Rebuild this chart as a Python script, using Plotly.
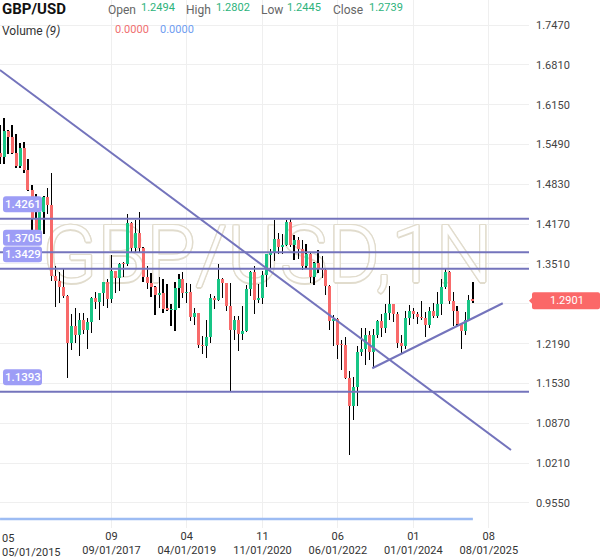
import plotly.graph_objects as go
import pandas as pd

# ---------------- data ----------------
months = pd.date_range("2015-05-01", periods=120, freq="MS")

opens = [
    1.5356, 1.5285, 1.5712, 1.5617, 1.5349, 1.5127, 1.5427, 1.5063,
    1.4739, 1.4249, 1.3920, 1.4364, 1.4615, 1.4487, 1.3311, 1.3230, 1.3130, 1.2980, 1.2200, 1.2489,
    1.2340, 1.2580, 1.2415, 1.2550, 1.2945, 1.2885, 1.3025, 1.3205, 1.2930, 1.3396, 1.3284, 1.3517,
    1.3513, 1.4190, 1.3773, 1.4025, 1.3775, 1.3297, 1.3198, 1.3125, 1.2995, 1.3030, 1.2770, 1.2752,
    1.2755, 1.3112, 1.3263, 1.3034, 1.3040, 1.2625, 1.2695, 1.2163, 1.2157, 1.2292, 1.2945, 1.2915,
    1.3260, 1.3200, 1.2814, 1.2415, 1.2590, 1.2345, 1.2400, 1.3090, 1.3370, 1.2920, 1.2950, 1.3323,
    1.3670, 1.3700, 1.3930, 1.3785, 1.3820, 1.4210, 1.3830, 1.3905, 1.3760, 1.3470, 1.3680, 1.3300,
    1.3530, 1.3445, 1.3410, 1.3140, 1.2570, 1.2600, 1.2175, 1.2170, 1.1620, 1.1165, 1.1470, 1.2055,
    1.2095, 1.2330, 1.2055, 1.2335, 1.2570, 1.2445, 1.2705, 1.2840, 1.2680, 1.2200, 1.2150, 1.2620,
    1.2730, 1.2685, 1.2630, 1.2620, 1.2494, 1.2739, 1.2645, 1.2855, 1.3125, 1.3375, 1.2895, 1.2735,
    1.2515, 1.2395, 1.2580, 1.2917,
]
highs = [
    1.5815, 1.5930, 1.5730, 1.5819, 1.5659, 1.5508, 1.5529, 1.5242,
    1.4812, 1.4667, 1.4459, 1.4638, 1.4770, 1.5018, 1.3480, 1.3373, 1.3445, 1.2996, 1.2674, 1.2775,
    1.2706, 1.2706, 1.2615, 1.2965, 1.3048, 1.3030, 1.3213, 1.3268, 1.3658, 1.3400, 1.3525, 1.3550,
    1.4345, 1.4199, 1.4245, 1.4377, 1.3795, 1.3473, 1.3363, 1.3147, 1.3298, 1.3258, 1.3176, 1.2840,
    1.3216, 1.3350, 1.3382, 1.3196, 1.3176, 1.2784, 1.2700, 1.2310, 1.2582, 1.3013, 1.2986, 1.3515,
    1.3285, 1.3200, 1.3200, 1.2648, 1.2647, 1.2813, 1.3170, 1.3395, 1.3482, 1.3177, 1.3398, 1.3675,
    1.3758, 1.4242, 1.4017, 1.4009, 1.4234, 1.4250, 1.3984, 1.3958, 1.3913, 1.3834, 1.3700, 1.3550,
    1.3750, 1.3645, 1.3437, 1.3168, 1.2667, 1.2617, 1.2245, 1.2294, 1.1738, 1.1645, 1.2154, 1.2446,
    1.2448, 1.2401, 1.2425, 1.2584, 1.2680, 1.2848, 1.3142, 1.2842, 1.2713, 1.2337, 1.2733, 1.2827,
    1.2775, 1.2709, 1.2894, 1.2709, 1.2802, 1.2860, 1.3044, 1.3266, 1.3434, 1.3391, 1.3048, 1.2811,
    1.2523, 1.2715, 1.2990, 1.3207,
]
lows = [
    1.5170, 1.5170, 1.5330, 1.5330, 1.5106, 1.5107, 1.5026, 1.4722,
    1.4080, 1.3836, 1.3835, 1.4005, 1.4332, 1.3229, 1.2798, 1.2865, 1.2945, 1.1620, 1.2082, 1.2200,
    1.1986, 1.2345, 1.2109, 1.2365, 1.2770, 1.2589, 1.2812, 1.2774, 1.2861, 1.3026, 1.3062, 1.3301,
    1.3475, 1.3712, 1.3712, 1.3711, 1.3204, 1.3099, 1.2957, 1.2662, 1.2784, 1.2695, 1.2723, 1.2477,
    1.2392, 1.2773, 1.2945, 1.2866, 1.2560, 1.2507, 1.2119, 1.2015, 1.1958, 1.2195, 1.2768, 1.2903,
    1.2954, 1.2726, 1.1409, 1.2247, 1.2076, 1.2252, 1.2390, 1.2982, 1.2675, 1.2863, 1.2855, 1.3135,
    1.3451, 1.3567, 1.3670, 1.3668, 1.3802, 1.3787, 1.3572, 1.3600, 1.3412, 1.3435, 1.3195, 1.3160,
    1.3357, 1.3272, 1.3000, 1.2411, 1.2155, 1.1934, 1.1760, 1.1600, 1.0350, 1.0923, 1.1150, 1.1992,
    1.1840, 1.1915, 1.1800, 1.2276, 1.2308, 1.2369, 1.2590, 1.2547, 1.2110, 1.2037, 1.2095, 1.2500,
    1.2597, 1.2518, 1.2575, 1.2300, 1.2445, 1.2613, 1.2615, 1.2665, 1.3090, 1.2845, 1.2487, 1.2475,
    1.2100, 1.2333, 1.2560, 1.2860,
]
closes = [
    1.5285, 1.5712, 1.5617, 1.5349, 1.5127, 1.5427, 1.5063, 1.4739,
    1.4249, 1.3920, 1.4364, 1.4615, 1.4487, 1.3311, 1.3230, 1.3130, 1.2980, 1.2200, 1.2489, 1.2340,
    1.2580, 1.2415, 1.2550, 1.2945, 1.2885, 1.3025, 1.3205, 1.2930, 1.3396, 1.3284, 1.3517, 1.3513,
    1.4190, 1.3773, 1.4025, 1.3775, 1.3297, 1.3198, 1.3125, 1.2995, 1.3030, 1.2770, 1.2752, 1.2755,
    1.3112, 1.3263, 1.3034, 1.3040, 1.2625, 1.2695, 1.2163, 1.2157, 1.2292, 1.2945, 1.2915, 1.3260,
    1.3200, 1.2814, 1.2415, 1.2590, 1.2345, 1.2400, 1.3090, 1.3370, 1.2920, 1.2950, 1.3323, 1.3670,
    1.3700, 1.3930, 1.3785, 1.3820, 1.4210, 1.3830, 1.3905, 1.3760, 1.3470, 1.3680, 1.3300, 1.3530,
    1.3445, 1.3410, 1.3140, 1.2570, 1.2600, 1.2175, 1.2170, 1.1620, 1.1165, 1.1470, 1.2055, 1.2095,
    1.2330, 1.2055, 1.2335, 1.2570, 1.2445, 1.2705, 1.2840, 1.2680, 1.2200, 1.2150, 1.2620, 1.2730,
    1.2685, 1.2630, 1.2620, 1.2494, 1.2739, 1.2645, 1.2855, 1.3125, 1.3375, 1.2895, 1.2735, 1.2515,
    1.2395, 1.2580, 1.2917, 1.2901,
]
volume_ma = [0.0] * 120

level_values = [1.4261, 1.3705, 1.3429, 1.1393]
level_labels = ["1.4261", "1.3705", "1.3429", "1.1393"]
last_price = 1.2901
last_label = "1.2901"

down_trend_x = ["2015-04-30", "2026-01-18"]
down_trend_y = [1.6724, 1.0428]
up_trend_x = ["2023-02-20", "2025-11-16"]
up_trend_y = [1.1782, 1.2859]

y_tick_vals = [0.9550, 1.0210, 1.0870, 1.1530, 1.2190, 1.2850, 1.3510,
               1.4170, 1.4830, 1.5490, 1.6150, 1.6810, 1.7470]
y_tick_text = ["0.9550", "1.0210", "1.0870", "1.1530", "1.2190", "", "1.3510",
               "1.4170", "1.4830", "1.5490", "1.6150", "1.6810", "1.7470"]
x_tick_vals = ["2017-09-01", "2019-04-01", "2020-11-01", "2022-06-01", "2024-01-01", "2025-08-01"]
x_tick_text = ["09<br>09/01/2017", "04<br>04/01/2019", "11<br>11/01/2020",
               "06<br>06/01/2022", "01<br>01/01/2024", "08<br>08/01/2025"]
first_x_label = "05<br>05/01/2015"

header_names = ["Open", "High", "Low", "Close"]
header_values = ["1.2494", "1.2802", "1.2445", "1.2739"]
watermark_text = "GBP/USD,1N"
watermark_x = ["2020-12-09"]
watermark_y = [1.354]

# ---------------- style ----------------
FONT = "Roboto"
UP = "#17c585"
DOWN = "#f86a6a"
PURPLE = "#7474bc"
TAG_PURPLE = "#9d9df6"
TAG_RED = "#fb6868"
W, H = 529, 528          # plot area in px (margins: r=71, b=30)
PX_PER_DAY = 0.1305
DAY_MS = 86400000

def pxx(p):
    return p / W

def pxy(p):
    return 1 - p / H

def rounded_rect(x0, y0, x1, y1, r, point_left=False):
    # pixel coords -> paper path with rounded corners
    pts = []
    def P(x, y):
        return f"{pxx(x):.5f},{pxy(y):.5f}"
    path = f"M {P(x0 + r, y0)} L {P(x1 - r, y0)} Q {P(x1, y0)} {P(x1, y0 + r)} "
    path += f"L {P(x1, y1 - r)} Q {P(x1, y1)} {P(x1 - r, y1)} L {P(x0 + r, y1)} "
    path += f"Q {P(x0, y1)} {P(x0, y1 - r)} "
    if point_left:
        ym = (y0 + y1) / 2
        path += f"L {P(x0, ym + 3)} L {P(x0 - 3, ym)} L {P(x0, ym - 3)} "
    path += f"L {P(x0, y0 + r)} Q {P(x0, y0)} {P(x0 + r, y0)} Z"
    return path

body_base = [min(o, c) for o, c in zip(opens, closes)]
body_h = [max(abs(c - o), 0.0008) for o, c in zip(opens, closes)]
body_col = [UP if c >= o else DOWN for o, c in zip(opens, closes)]
wick_h = [h - l for h, l in zip(highs, lows)]

fig = go.Figure()

# watermark (base layer, below candles)
outline = "#e1dccd"
sh = ", ".join(f"{dx}px {dy}px 0 {outline}" for dx, dy in
               [(1.4, 0), (-1.4, 0), (0, 1.4), (0, -1.4), (1, 1), (-1, -1), (1, -1), (-1, 1)])
fig.add_trace(go.Scatter(
    x=watermark_x, y=watermark_y, mode="text", text=[watermark_text],
    textposition="middle center",
    textfont=dict(family=FONT, size=80, color="white", weight=300, shadow=sh),
    hoverinfo="skip", showlegend=False, xaxis="x", yaxis="y", cliponaxis=False,
))

# wicks
fig.add_trace(go.Bar(
    x=months, y=wick_h, base=lows, width=0.25 / PX_PER_DAY * DAY_MS,
    marker=dict(color="#000000", line=dict(width=0)),
    hoverinfo="skip", showlegend=False, xaxis="x", yaxis="y2",
))
# bodies
fig.add_trace(go.Bar(
    x=months, y=body_h, base=body_base, width=3.0 / PX_PER_DAY * DAY_MS,
    marker=dict(color=body_col, line=dict(width=0)),
    hoverinfo="skip", showlegend=False, xaxis="x", yaxis="y2",
))

# volume MA line
fig.add_trace(go.Scatter(
    x=months, y=volume_ma, mode="lines", line=dict(color="#9dbcf3", width=2.5),
    hoverinfo="skip", showlegend=False, xaxis="x", yaxis="y3",
))

price_top = 1.7470 + 25 / 603.5
price_bot = 1.7470 - (H * 0.96 - 25) / 603.5

fig.update_layout(
    width=600, height=558,
    margin=dict(l=0, r=71, t=0, b=30),
    paper_bgcolor="white", plot_bgcolor="white",
    barmode="overlay", bargap=0, bargroupgap=0,
    showlegend=False,
    font=dict(family=FONT, size=11, color="#444"),
    xaxis=dict(
        type="date", range=["2015-04-30 14:00", "2026-06-05"],
        tickvals=x_tick_vals, ticktext=x_tick_text,
        tickfont=dict(family=FONT, size=11, color="#333"),
        showgrid=True, gridcolor="#efefef", gridwidth=1,
        zeroline=False, showline=False, ticks="", anchor="y3",
    ),
    yaxis=dict(
        domain=[0.04, 1], range=[price_bot, price_top], side="right",
        tickvals=y_tick_vals, ticktext=y_tick_text,
        tickfont=dict(family=FONT, size=11, color="#444"),
        showgrid=True, gridcolor="#efefef", gridwidth=1,
        zeroline=False, showline=False, ticks="", ticklabelstandoff=6,
        anchor="x",
    ),
    yaxis2=dict(
        overlaying="y", range=[price_bot, price_top], visible=False,
        showgrid=False, anchor="x",
    ),
    yaxis3=dict(
        domain=[0, 0.04], range=[-0.426, 0.574], visible=False,
        showgrid=False, zeroline=False, anchor="x",
    ),
)

# horizontal levels
for v in level_values:
    fig.add_shape(type="line", xref="paper", yref="y", x0=0, x1=1, y0=v, y1=v,
                  line=dict(color=PURPLE, width=2))
# trend lines
fig.add_shape(type="line", xref="x", yref="y",
              x0=down_trend_x[0], x1=down_trend_x[1], y0=down_trend_y[0], y1=down_trend_y[1],
              line=dict(color=PURPLE, width=2))
fig.add_shape(type="line", xref="x", yref="y",
              x0=up_trend_x[0], x1=up_trend_x[1], y0=up_trend_y[0], y1=up_trend_y[1],
              line=dict(color=PURPLE, width=2))

# level tags on the left (rounded boxes + text)
for v, t in zip(level_values, level_labels):
    yc = 25 + (1.7470 - v) * 603.5 - 14.5
    fig.add_shape(type="path", xref="paper", yref="paper",
                  path=rounded_rect(3, yc - 8, 42, yc + 8, 3),
                  fillcolor=TAG_PURPLE, line=dict(width=0))
    fig.add_annotation(x=pxx(22.5), xref="paper", xanchor="center", y=pxy(yc), yref="paper",
                       yanchor="middle", text=t, showarrow=False,
                       font=dict(family=FONT, size=11.5, color="white", weight=500))

# last price tag
yl = 25 + (1.7470 - last_price) * 603.5
fig.add_shape(type="path", xref="paper", yref="paper",
              path=rounded_rect(532, yl - 8.5, 600, yl + 8.5, 2, point_left=True),
              fillcolor=TAG_RED, line=dict(width=0))
fig.add_annotation(x=pxx(567), xref="paper", xanchor="center", y=pxy(yl), yref="paper",
                   yanchor="middle", text=last_label, showarrow=False,
                   font=dict(family=FONT, size=11, color="white"))

# first x label (kept inside the canvas)
fig.add_annotation(x=0, xref="paper", xanchor="left", y=pxy(530), yref="paper", yanchor="top",
                   text=first_x_label, showarrow=False, align="left",
                   font=dict(family=FONT, size=11, color="#333"))

# header
fig.add_annotation(x=pxx(0), xref="paper", xanchor="left", y=pxy(9), yref="paper",
                   yanchor="middle", text="<b>GBP/USD</b>", showarrow=False,
                   font=dict(family=FONT, size=15, color="#111"))
name_x = [106, 184, 259, 331]
val_x = [139, 214, 285, 367]
for n, v, nx, vx in zip(header_names, header_values, name_x, val_x):
    fig.add_annotation(x=pxx(nx), xref="paper", xanchor="left", y=pxy(10), yref="paper",
                       yanchor="middle", text=n, showarrow=False,
                       font=dict(family=FONT, size=12, color="#666"))
    fig.add_annotation(x=pxx(vx), xref="paper", xanchor="left", y=pxy(7.5), yref="paper",
                       yanchor="middle", text=v, showarrow=False,
                       font=dict(family=FONT, size=11, color="#2db37c"))
fig.add_annotation(x=pxx(0), xref="paper", xanchor="left", y=pxy(31), yref="paper",
                   yanchor="middle", text="Volume <i>(9)</i>", showarrow=False,
                   font=dict(family=FONT, size=12, color="#333"))
fig.add_annotation(x=pxx(113), xref="paper", xanchor="left", y=pxy(30), yref="paper",
                   yanchor="middle", text="0.0000", showarrow=False,
                   font=dict(family=FONT, size=11, color="#ef6f6f"))
fig.add_annotation(x=pxx(158), xref="paper", xanchor="left", y=pxy(30), yref="paper",
                   yanchor="middle", text="0.0000", showarrow=False,
                   font=dict(family=FONT, size=11, color="#6f9df1"))

fig.write_html("out.html")
